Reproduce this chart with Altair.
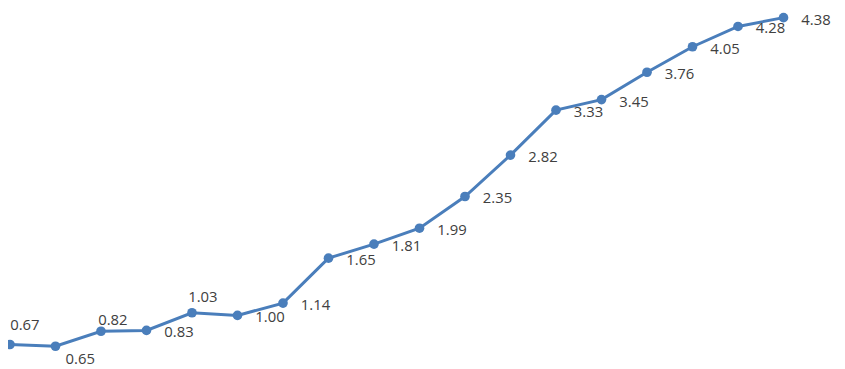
import altair as alt
import pandas as pd

values = [0.67, 0.65, 0.82, 0.83, 1.03, 1.00, 1.14, 1.65, 1.81, 1.99,
          2.35, 2.82, 3.33, 3.45, 3.76, 4.05, 4.28, 4.38]
labels = [f"{v:.2f}" for v in values]
idx = list(range(len(values)))

df = pd.DataFrame({"i": idx, "v": values, "label": labels})

# label placement groups (index -> offsets), default is right of the point
special = {0: (15, -20), 1: (25, 13), 2: (12, -11), 4: (11, -16)}

x = alt.X("i:Q", axis=None, scale=alt.Scale(domain=[0, 17], range=[2, 783]))
y = alt.Y("v:Q", axis=None, scale=alt.Scale(domain=[0.67, 4.38], range=[338, 8], zero=False))

BLUE = "#4A7EBB"
TXT = "#404040"
FONT = "Open Sans"

base = alt.Chart(df).encode(x=x, y=y)
line = base.mark_line(color=BLUE, strokeWidth=3)
pts = base.mark_circle(color=BLUE, size=95, opacity=1)

default_ids = [i for i in idx if i not in special]
layers = [line, pts,
          base.transform_filter(alt.FieldOneOfPredicate(field="i", oneOf=default_ids))
              .mark_text(align="left", baseline="middle", dx=18, dy=2,
                         font=FONT, fontSize=15, color=TXT)
              .encode(text="label:N")]
for k, (ddx, ddy) in special.items():
    layers.append(
        base.transform_filter(alt.datum.i == k)
            .mark_text(align="center", baseline="middle", dx=ddx, dy=ddy,
                       font=FONT, fontSize=15, color=TXT)
            .encode(text="label:N"))

chart = alt.layer(*layers).properties(
    width=837, height=361, padding=0, autosize=alt.AutoSizeParams(type="none"),
    background="white"
).configure_view(stroke=None, strokeWidth=0)

chart.save("out.html", embed_options={"renderer": "svg", "actions": False})
